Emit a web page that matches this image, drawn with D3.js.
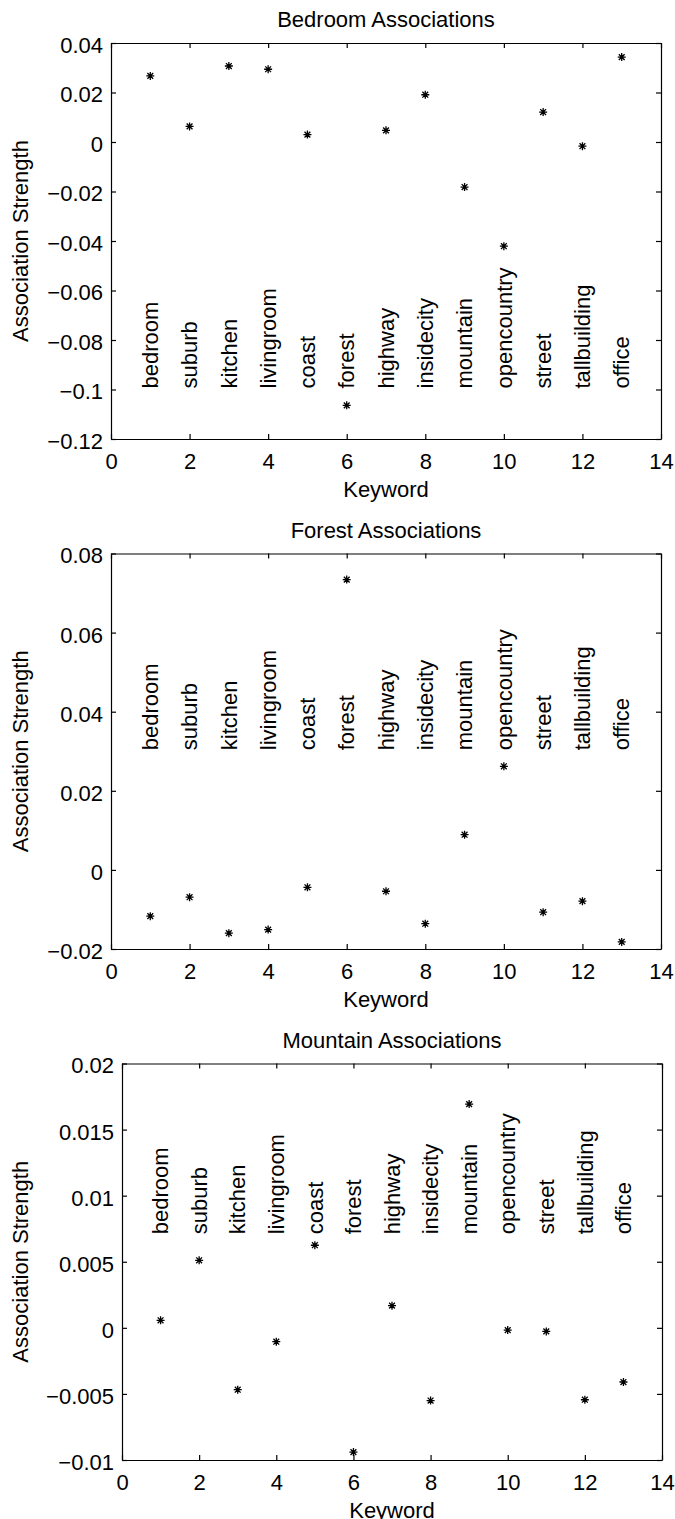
<!DOCTYPE html>
<html>
<head>
<meta charset="utf-8">
<script src="https://cdn.jsdelivr.net/npm/d3@7"></script>
<style>
  body { margin: 0; background: #fff; }
  svg { display: block; }
  text { font-family: "Liberation Sans", Arial, Helvetica, sans-serif; fill: #000; }
  .axis path, .axis line { stroke: #000; stroke-width: 1.2; }
  .axis text { font-size: 22px; font-family: "Liberation Sans", Arial, sans-serif; }
</style>
</head>
<body>
<svg id="fig" width="675" height="1519"></svg>
<script>
// keyword categories (x = 1..13)
var keywords = ["bedroom", "suburb", "kitchen", "livingroom", "coast", "forest",
  "highway", "insidecity", "mountain", "opencountry", "street", "tallbuilding", "office"];

// association strengths
var bedroomValues = [0.0267, 0.0063, 0.0307, 0.0294, 0.0030, -0.1064, 0.0047,
  0.0191, -0.0182, -0.0421, 0.0121, -0.0017, 0.0343];
var forestValues = [-0.0117, -0.0069, -0.0160, -0.0151, -0.0044, 0.0734, -0.0054,
  -0.0136, 0.0089, 0.0262, -0.0107, -0.0079, -0.0182];
var mountainValues = [0.00057, 0.00511, -0.00468, -0.00105, 0.00625, -0.0094, 0.00168,
  -0.0055, 0.01693, -0.00017, -0.00027, -0.00544, -0.0041];

// tick values and labels
var xTicks = [0, 2, 4, 6, 8, 10, 12, 14];
var bedroomTicks = [-0.12, -0.1, -0.08, -0.06, -0.04, -0.02, 0, 0.02, 0.04];
var bedroomTickLabels = ["\u22120.12", "\u22120.1", "\u22120.08", "\u22120.06", "\u22120.04", "\u22120.02", "0", "0.02", "0.04"];
var forestTicks = [-0.02, 0, 0.02, 0.04, 0.06, 0.08];
var forestTickLabels = ["\u22120.02", "0", "0.02", "0.04", "0.06", "0.08"];
var mountainTicks = [-0.01, -0.005, 0, 0.005, 0.01, 0.015, 0.02];
var mountainTickLabels = ["\u22120.01", "\u22120.005", "0", "0.005", "0.01", "0.015", "0.02"];

var titles = ["Bedroom Associations", "Forest Associations", "Mountain Associations"];

var svg = d3.select("#fig");

function drawPanel(cfg) {
  var x = d3.scaleLinear().domain([0, 14]).range([cfg.left, cfg.right]);
  var y = d3.scaleLinear().domain([cfg.ticks[0], cfg.ticks[cfg.ticks.length - 1]])
    .range([cfg.bottom, cfg.top]);

  var g = svg.append("g");

  var fmt = function(d) { return cfg.tickLabels[cfg.ticks.indexOf(d)]; };

  // box made of four axes, ticks pointing inward
  g.append("g").attr("class", "axis")
    .attr("transform", "translate(0," + cfg.bottom + ")")
    .call(d3.axisBottom(x).tickValues(xTicks).tickSizeInner(-5).tickSizeOuter(0).tickPadding(14)
      .tickFormat(d3.format("d")));
  g.append("g").attr("class", "axis")
    .attr("transform", "translate(0," + cfg.top + ")")
    .call(d3.axisTop(x).tickValues(xTicks).tickSizeInner(-5).tickSizeOuter(0).tickFormat(""));
  var yl = g.append("g").attr("class", "axis")
    .attr("transform", "translate(" + cfg.left + ",0)")
    .call(d3.axisLeft(y).tickValues(cfg.ticks).tickSizeInner(-5).tickSizeOuter(0).tickPadding(8)
      .tickFormat(fmt));
  yl.selectAll("text").attr("dy", "0.43em");
  g.append("g").attr("class", "axis")
    .attr("transform", "translate(" + cfg.right + ",0)")
    .call(d3.axisRight(y).tickValues(cfg.ticks).tickSizeInner(-5).tickSizeOuter(0).tickFormat(""));

  g.selectAll(".axis .domain").attr("stroke-width", 1.3);

  // keyword labels, rotated
  g.selectAll("text.kw")
    .data(keywords)
    .enter().append("text")
    .attr("class", "kw")
    .attr("transform", function(d, i) {
      return "translate(" + x(i + 1) + "," + (y(cfg.labelAt) - 1) + ") rotate(-90)";
    })
    .attr("dy", "0.35em")
    .style("font-size", "22px")
    .text(function(d) { return d; });

  // asterisk markers
  var r = 4, dd = 2.9;
  var star = "M" + (-r) + ",0H" + r + "M0," + (-r) + "V" + r +
    "M" + (-dd) + "," + (-dd) + "L" + dd + "," + dd +
    "M" + (-dd) + "," + dd + "L" + dd + "," + (-dd);
  g.selectAll("path.pt")
    .data(cfg.values)
    .enter().append("path")
    .attr("class", "pt")
    .attr("d", star)
    .attr("transform", function(d, i) { return "translate(" + x(i + 1) + "," + y(d) + ")"; })
    .attr("fill", "none")
    .attr("stroke", "#000")
    .attr("stroke-width", 1.3);

  // title
  g.append("text")
    .attr("x", (cfg.left + cfg.right) / 2)
    .attr("y", cfg.top - 16)
    .attr("text-anchor", "middle")
    .style("font-size", "22px")
    .text(cfg.title);

  // x label
  g.append("text")
    .attr("x", (cfg.left + cfg.right) / 2)
    .attr("y", cfg.bottom + 58)
    .attr("text-anchor", "middle")
    .style("font-size", "22px")
    .text("Keyword");

  // y label
  g.append("text")
    .attr("transform", "translate(28," + (cfg.top + cfg.bottom) / 2 + ") rotate(-90)")
    .attr("text-anchor", "middle")
    .style("font-size", "22px")
    .text("Association Strength");
}

drawPanel({ title: titles[0], values: bedroomValues, ticks: bedroomTicks, tickLabels: bedroomTickLabels,
  left: 111, right: 661, top: 43, bottom: 439, labelAt: -0.1 });
drawPanel({ title: titles[1], values: forestValues, ticks: forestTicks, tickLabels: forestTickLabels,
  left: 111, right: 661, top: 553.5, bottom: 949, labelAt: 0.03 });
drawPanel({ title: titles[2], values: mountainValues, ticks: mountainTicks, tickLabels: mountainTickLabels,
  left: 122, right: 662, top: 1063.5, bottom: 1460, labelAt: 0.007 });
</script>
</body>
</html>
